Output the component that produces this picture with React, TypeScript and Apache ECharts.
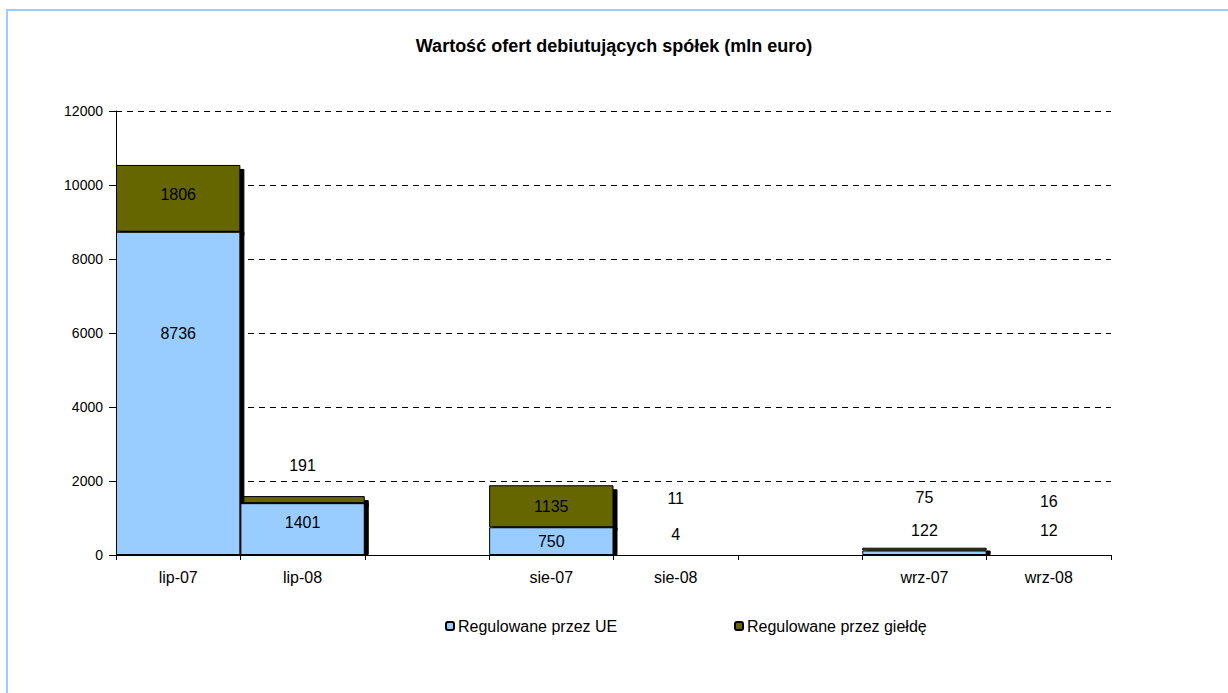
import React, { useEffect, useRef } from "react";
import * as echarts from "echarts";

const categories = ["lip-07", "lip-08", "", "sie-07", "sie-08", "", "wrz-07", "wrz-08"];
const ueValues: (number | null)[] = [8736, 1401, null, 750, 4, null, 122, 12];
const gieldaValues: (number | null)[] = [1806, 191, null, 1135, 11, null, 75, 16];
const yTicks = { min: 0, max: 12000, interval: 2000 };
const title = "Wartość ofert debiutujących spółek (mln euro)";
const seriesNames = ["Regulowane przez UE", "Regulowane przez giełdę"];

// label placement (styling): inside offset or 'top' distance, per category index
const ueLabelStyle: Record<number, any> = {
  0: { position: "inside", offset: [0, -60] },
  1: { position: "inside", offset: [0, -7] },
  4: { position: "top", distance: 12 },
  6: { position: "top", distance: 12 },
  7: { position: "top", distance: 16 },
};
const gieldaLabelStyle: Record<number, any> = {
  0: { position: "inside", offset: [0, -4] },
  1: { position: "top", distance: 23 },
  4: { position: "top", distance: 48 },
  6: { position: "top", distance: 42 },
  7: { position: "top", distance: 44 },
};

const FONT = "'Liberation Sans', Arial, sans-serif";

function buildData(values: (number | null)[], styles: Record<number, any>) {
  return values.map((v, i) => {
    if (v === null) return "-";
    const s = styles[i];
    if (!s) return v;
    return { value: v, label: { ...s } };
  });
}

export default function App() {
  const ref = useRef<HTMLDivElement>(null);
  useEffect(() => {
    if (!ref.current) return;
    const chart = echarts.init(ref.current, undefined, { renderer: "svg" });
    const common = {
      type: "bar",
      stack: "total",
      barCategoryGap: "0%",
      label: {
        show: true,
        position: "inside",
        color: "#000",
        fontSize: 16,
        fontFamily: FONT,
      },
      emphasis: { disabled: true },
    };
    const legendText = { fontSize: 16, color: "#000", fontFamily: FONT, padding: [0, 0, 0, -1] };
    chart.setOption({
      animation: false,
      backgroundColor: "#fff",
      title: {
        text: title,
        left: "center",
        top: 32,
        textStyle: { fontSize: 18, fontWeight: "bold", color: "#000", fontFamily: FONT },
      },
      graphic: [
        {
          type: "rect",
          shape: { x: 7, y: 10, width: 1400, height: 900 },
          style: { fill: "none", stroke: "#99ccff", lineWidth: 2 },
          silent: true,
          z: -10,
        },
      ],
      legend: [
        {
          data: [seriesNames[0]],
          left: 440,
          top: 613,
          itemWidth: 8,
          itemHeight: 8,
          textStyle: legendText,
        },
        {
          data: [seriesNames[1]],
          left: 729,
          top: 613,
          itemWidth: 8,
          itemHeight: 8,
          textStyle: legendText,
        },
      ],
      grid: { left: 116, right: 117, top: 111, bottom: 138, containLabel: false },
      xAxis: {
        type: "category",
        data: categories,
        axisLine: { lineStyle: { color: "#000", width: 1 } },
        axisTick: { show: true, interval: 0, length: 5, lineStyle: { color: "#000" } },
        axisLabel: { interval: 0, color: "#000", fontSize: 16, fontFamily: FONT, margin: 14 },
      },
      yAxis: {
        type: "value",
        min: yTicks.min,
        max: yTicks.max,
        interval: yTicks.interval,
        axisLine: { show: true, lineStyle: { color: "#000", width: 1 } },
        axisTick: { show: true, length: 7, lineStyle: { color: "#000" } },
        axisLabel: {
          color: "#000",
          fontSize: 14,
          fontFamily: FONT,
          margin: 13,
          formatter: (v: number) => String(v),
        },
        splitLine: { show: true, lineStyle: { color: "#000", type: [6, 5], width: 1 } },
      },
      series: [
        {
          ...common,
          name: seriesNames[0],
          z: 3,
          data: buildData(ueValues, ueLabelStyle),
          itemStyle: {
            color: "#99ccff",
            borderColor: "#000",
            borderWidth: 1,
            shadowColor: "#000",
            shadowOffsetX: 4,
            shadowOffsetY: 0.01,
            shadowBlur: 0,
          },
        },
        {
          ...common,
          name: seriesNames[1],
          z: 2,
          data: buildData(gieldaValues, gieldaLabelStyle),
          itemStyle: {
            color: "#666600",
            borderColor: "#000",
            borderWidth: 1,
            shadowColor: "#000",
            shadowOffsetX: 4,
            shadowOffsetY: 4,
            shadowBlur: 0,
          },
        },
      ],
    });
    return () => chart.dispose();
  }, []);
  return (
    <div
      ref={ref}
      style={{ position: "fixed", left: 0, top: 0, width: 1228, height: 693 }}
    />
  );
}
